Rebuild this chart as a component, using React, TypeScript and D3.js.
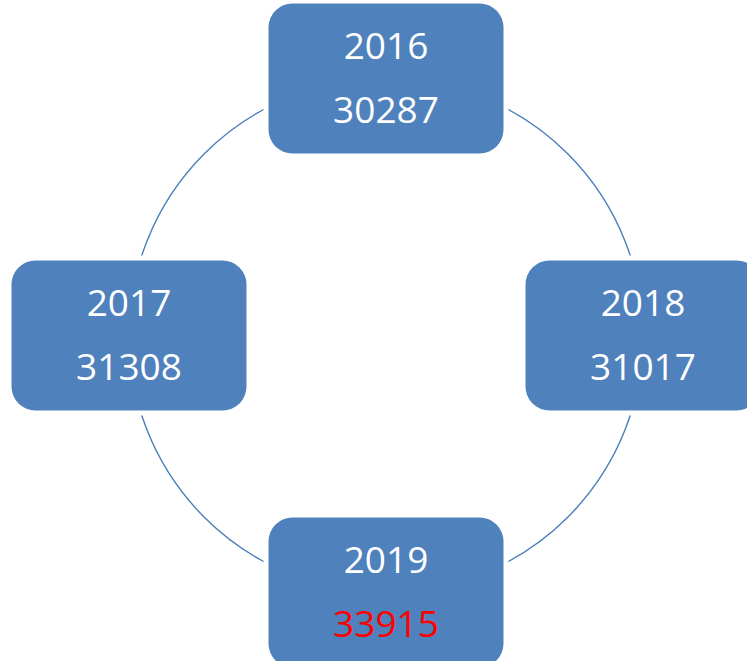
import React from "react";
import * as d3 from "d3";

const years = ["2016", "2017", "2018", "2019"];
const values = [30287, 31308, 31017, 33915];
const valueColors = ["#FFFFFF", "#FFFFFF", "#FFFFFF", "#FF0000"];
// clockwise slot (0 = top) of each item
const slots = [0, 3, 1, 2];

const W = 747;
const H = 661;

export default function App() {
  const cx = 386;
  const cy = 335.5;
  const R = 257;
  const bw = 235;
  const bh = 150;
  const rx = 24;
  const gap = 5;

  const angle = d3.scaleLinear().domain([0, 4]).range([-Math.PI / 2, (3 * Math.PI) / 2]);
  const arc = d3.arc()({ innerRadius: R, outerRadius: R, startAngle: 0, endAngle: 2 * Math.PI }) as string;

  const nodes = years.map((y, i) => {
    const a = angle(slots[i]);
    return { year: y, value: values[i], color: valueColors[i], x: cx + R * Math.cos(a), y: cy + R * Math.sin(a) };
  });

  return (
    <svg
      width={W}
      height={H}
      style={{ position: "absolute", left: 0, top: 0, background: "#fff" }}
      fontFamily="'Open Sans', Carlito, Calibri, sans-serif"
    >
      <path d={arc} transform={`translate(${cx},${cy})`} fill="none" stroke="#4A7EBB" strokeWidth={1.4} />
      {nodes.map((n) => (
        <rect
          key={"w" + n.year}
          x={n.x - bw / 2 - gap}
          y={n.y - bh / 2 - gap}
          width={bw + 2 * gap}
          height={bh + 2 * gap}
          rx={rx + gap}
          fill="#fff"
        />
      ))}
      {nodes.map((n) => (
        <g key={n.year}>
          <rect x={n.x - bw / 2} y={n.y - bh / 2} width={bw} height={bh} rx={rx} fill="#4F81BD" />
          <text x={n.x} y={n.y - 20} textAnchor="middle" fontSize={37} fill="#FFFFFF">
            {n.year}
          </text>
          <text x={n.x} y={n.y + 44} textAnchor="middle" fontSize={37} fill={n.color}>
            {n.value}
          </text>
        </g>
      ))}
    </svg>
  );
}
